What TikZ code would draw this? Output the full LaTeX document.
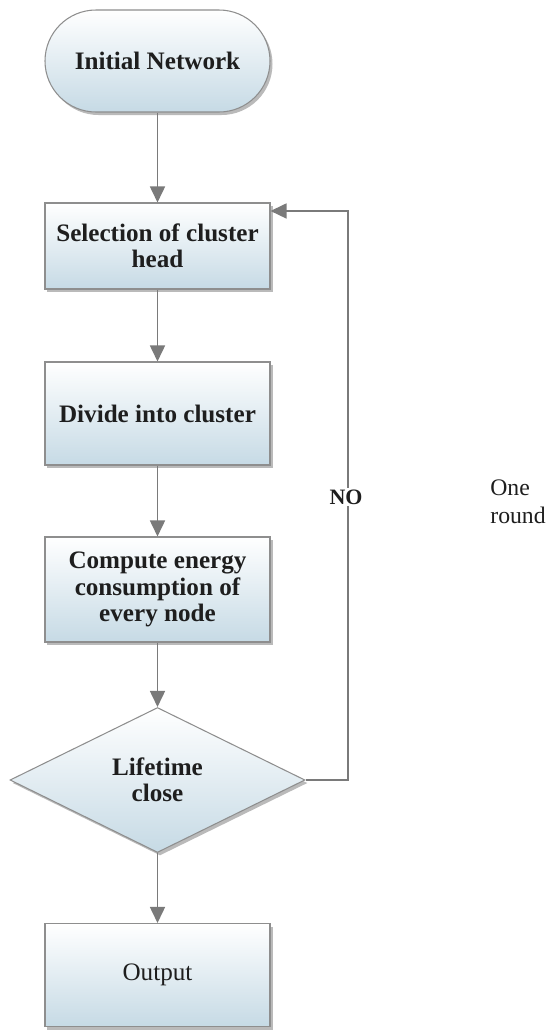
\documentclass[tikz,border=0pt]{standalone}
\usepackage{fontspec}
\setmainfont{Liberation Serif}
\usetikzlibrary{arrows.meta,positioning,shapes.geometric,shadows}
\definecolor{edgegray}{HTML}{8E8E8E}
\definecolor{arrowgray}{HTML}{7A7A7A}
\definecolor{paleblue}{HTML}{C6DAE5}
\definecolor{ink}{HTML}{1E1E1E}

\begin{document}
\begin{tikzpicture}[
        font=\fontsize{14.3}{15}\selectfont\bfseries,
        text=ink,
        box/.style={draw=edgegray,line width=0.6pt,top color=white,bottom color=paleblue,
          minimum width=4.5cm,minimum height=2.06cm,align=center,
          drop shadow={shadow xshift=0.5mm,shadow yshift=-0.6mm,fill=black!45,opacity=0.6}},
        start/.style={box,rounded corners=1.02cm,minimum height=2.04cm},
        decision/.style={box,diamond,aspect=2,minimum width=5.9cm,minimum height=2.9cm,inner sep=0pt},
        arr/.style={-{Triangle[length=3.2mm,width=3mm]},line width=0.9pt,draw=arrowgray}
      ]
        \useasboundingbox (0,0) rectangle (11.1,-20.6);
        \node[start] (init) at (3.15,-1.22) {Initial Network};
        \node[box,minimum height=1.72cm] (select) at (3.15,-4.92) {Selection of cluster\\head};
        \node[box] (divide) at (3.15,-8.27) {Divide into cluster};
        \node[box,minimum height=2.1cm] (compute) at (3.15,-11.79) {Compute energy\\consumption of\\every node};
        \node[decision] (decide) at (3.15,-15.6) {Lifetime\\close};
        \node[box,font=\fontsize{14.3}{15}\selectfont\mdseries] (output) at (3.15,-19.5) {Output};
        \coordinate (loopx) at (6.96,0);
        \draw[arr] (init) -- (select);
        \draw[arr] (select) -- (divide);
        \draw[arr] (divide) -- (compute);
        \draw[arr] (compute) -- (decide);
        \draw[arr] (decide) -- (output);
        \draw[arr] (decide.east) -- (decide.east -| loopx) |- ([yshift=-1.7mm]select.north east);
        \node[fill=white,inner sep=1pt,font=\fontsize{12.5}{15}\selectfont\bfseries] (no) at (6.92,-9.94) {NO};
        \node[anchor=west,align=left,inner sep=0pt,font=\fontsize{13.5}{16}\selectfont\mdseries] (round) at (9.8,-10.04) {One\\round};
      \end{tikzpicture}
\end{document}
